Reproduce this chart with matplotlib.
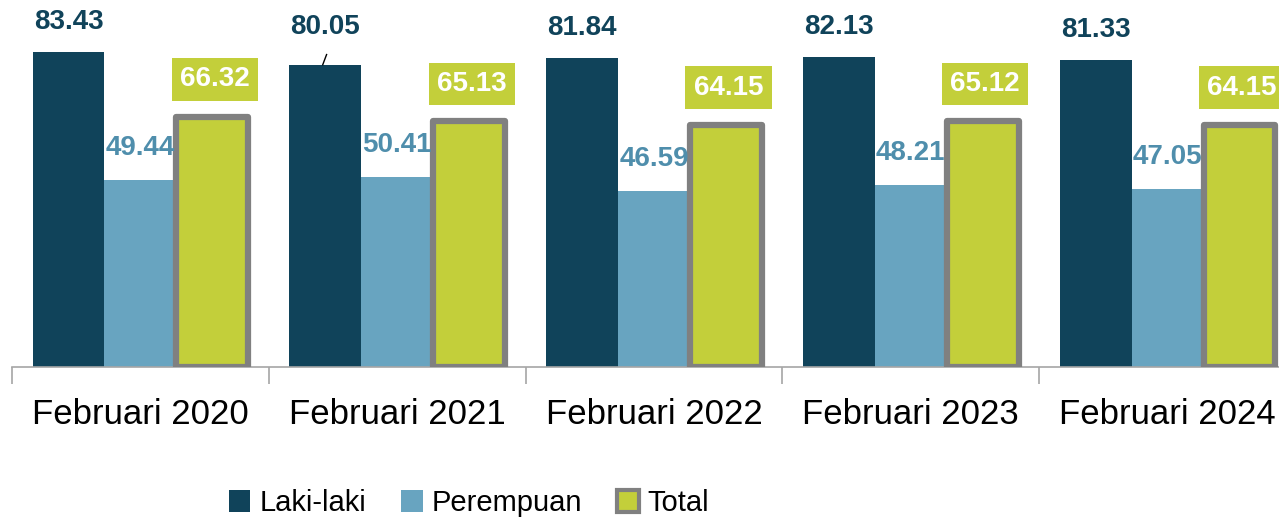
import numpy as np
import matplotlib.pyplot as plt
from matplotlib.patches import Patch

# --- data ---
periods = ["Februari 2020", "Februari 2021", "Februari 2022", "Februari 2023", "Februari 2024"]
laki = [83.43, 80.05, 81.84, 82.13, 81.33]
perempuan = [49.44, 50.41, 46.59, 48.21, 47.05]
total = [66.32, 65.13, 64.15, 65.12, 64.15]

# --- style ---
FONT = ['Liberation Sans Narrow', 'Liberation Sans', 'DejaVu Sans']
plt.rcParams['font.family'] = FONT
c_dark = '#10435a'
c_light = '#68a4c0'
c_light_txt = '#4f8eac'
c_green = '#c3cf3a'
c_edge = '#808080'

fig = plt.figure(figsize=(12.79, 5.23), dpi=100)
ax = fig.add_axes([12 / 1279, 156 / 523, 1284 / 1279, 367 / 523])

x = np.arange(len(periods))
w = 0.28
VAL_FS = 20

ax.bar(x - w, laki, w, color=c_dark, zorder=2)
ax.bar(x, perempuan, w, color=c_light, zorder=2)
ax.bar(x + w, total, w, color=c_green, edgecolor=c_edge, linewidth=4.5,
       joinstyle='round', zorder=3)

for i in range(len(x)):
    # laki-laki labels
    if i == 1:
        ax.text(x[i] - w, laki[i] + 6.6, f"{laki[i]:.2f}", ha='center', va='bottom',
                fontsize=VAL_FS, fontweight='bold', color=c_dark)
        ax.plot([x[i] - w - 0.01, x[i] - w + 0.005], [laki[i], laki[i] + 2.7],
                color='black', lw=1, zorder=4)
    else:
        ax.text(x[i] - w, laki[i] + 4.6, f"{laki[i]:.2f}", ha='center', va='bottom',
                fontsize=VAL_FS, fontweight='bold', color=c_dark)
    # perempuan labels
    ax.text(x[i], perempuan[i] + 5.0, f"{perempuan[i]:.2f}", ha='center', va='bottom',
            fontsize=VAL_FS, fontweight='bold', color=c_light_txt)
    # total labels in a green box
    ax.text(x[i] + w + 0.01, total[i] + 6.4, f"{total[i]:.2f}", ha='center', va='bottom',
            fontsize=VAL_FS, fontweight='bold', color='white',
            bbox=dict(boxstyle='square,pad=0.3', facecolor=c_green, edgecolor='none'))

ax.set_xlim(-0.5, 4.5)
ax.set_ylim(0, 97.2)

for s in ['top', 'right', 'left']:
    ax.spines[s].set_visible(False)
ax.spines['bottom'].set_color('#a6a6a6')
ax.spines['bottom'].set_linewidth(1.2)
ax.set_yticks([])

ax.set_xticks(x)
ax.set_xticklabels(periods, fontsize=25)
ax.tick_params(axis='x', which='major', length=0, pad=22)
ax.set_xticks(np.arange(-0.5, 5.0, 1.0), minor=True)
ax.tick_params(axis='x', which='minor', length=12, width=1.2, color='#a6a6a6')

handles = [
    Patch(facecolor=c_dark, edgecolor='none', label='Laki-laki'),
    Patch(facecolor=c_light, edgecolor='none', label='Perempuan'),
    Patch(facecolor=c_green, edgecolor=c_edge, linewidth=3, label='Total'),
]
fig.legend(handles=handles, loc='center', bbox_to_anchor=(469 / 1279, 1 - 503 / 523),
           ncol=3, frameon=False, fontsize=21, handlelength=0.75, handleheight=0.75,
           handletextpad=0.3, columnspacing=1.2)

fig.savefig('out.png', dpi=100)
